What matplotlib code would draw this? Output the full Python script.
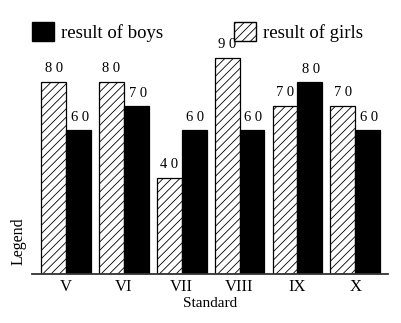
import matplotlib.pyplot as plt
import matplotlib.patches as mpatches
import numpy as np

standards = ["V", "VI", "VII", "VIII", "IX", "X"]
girls = [80, 80, 40, 90, 70, 70]
boys = [60, 70, 60, 60, 80, 60]

plt.rcParams["font.family"] = ["Liberation Serif", "DejaVu Serif"]
plt.rcParams["hatch.linewidth"] = 0.6

fig = plt.figure(figsize=(4.01, 3.23), dpi=100)
ax = fig.add_axes([0.08, 0.152, 0.888, 0.848])

x = np.arange(len(standards))
w = 0.43
gb = ax.bar(x - w / 2, girls, w, color="white", edgecolor="black", lw=0.9, hatch="////")
bb = ax.bar(x + w / 2, boys, w, color="black", edgecolor="black", lw=0.9)

for rect, v in zip(gb, girls):
    ax.annotate(" ".join(str(v)), (rect.get_x() + rect.get_width() / 2, v),
                xytext=(0, 5), textcoords="offset points", ha="center", va="bottom",
                fontsize=10.5, annotation_clip=False)
for rect, v in zip(bb, boys):
    ax.annotate(" ".join(str(v)), (rect.get_x() + rect.get_width() / 2, v),
                xytext=(1, 4), textcoords="offset points", ha="center", va="bottom",
                fontsize=10.5, annotation_clip=False)

ax.set_xlim(-0.588, 5.57)
ax.set_ylim(0, 114.2)
for s in ["top", "right", "left"]:
    ax.spines[s].set_visible(False)
ax.spines["bottom"].set_linewidth(1.3)
ax.spines["bottom"].set_color("#333333")
ax.set_yticks([])
ax.set_xticks(x)
ax.set_xticklabels(standards, fontsize=12)
ax.tick_params(axis="x", length=0, pad=4)
ax.set_xlabel("Standard", fontsize=11, labelpad=1)
ax.set_ylabel("Legend", fontsize=11.5)
ax.yaxis.set_label_coords(-0.015, 0.12)

handles = [mpatches.Patch(facecolor="black", edgecolor="black"),
           mpatches.Patch(facecolor="white", edgecolor="black", hatch="////")]
fig.legend(handles, ["result of boys", "result of girls"], loc="upper left",
           bbox_to_anchor=(0.062, 0.955), ncol=2, frameon=False, fontsize=13.5,
           handlelength=1.17, handleheight=1.17, handletextpad=0.37, columnspacing=3.75,
           borderaxespad=0)

fig.savefig("out.png", dpi=100)
